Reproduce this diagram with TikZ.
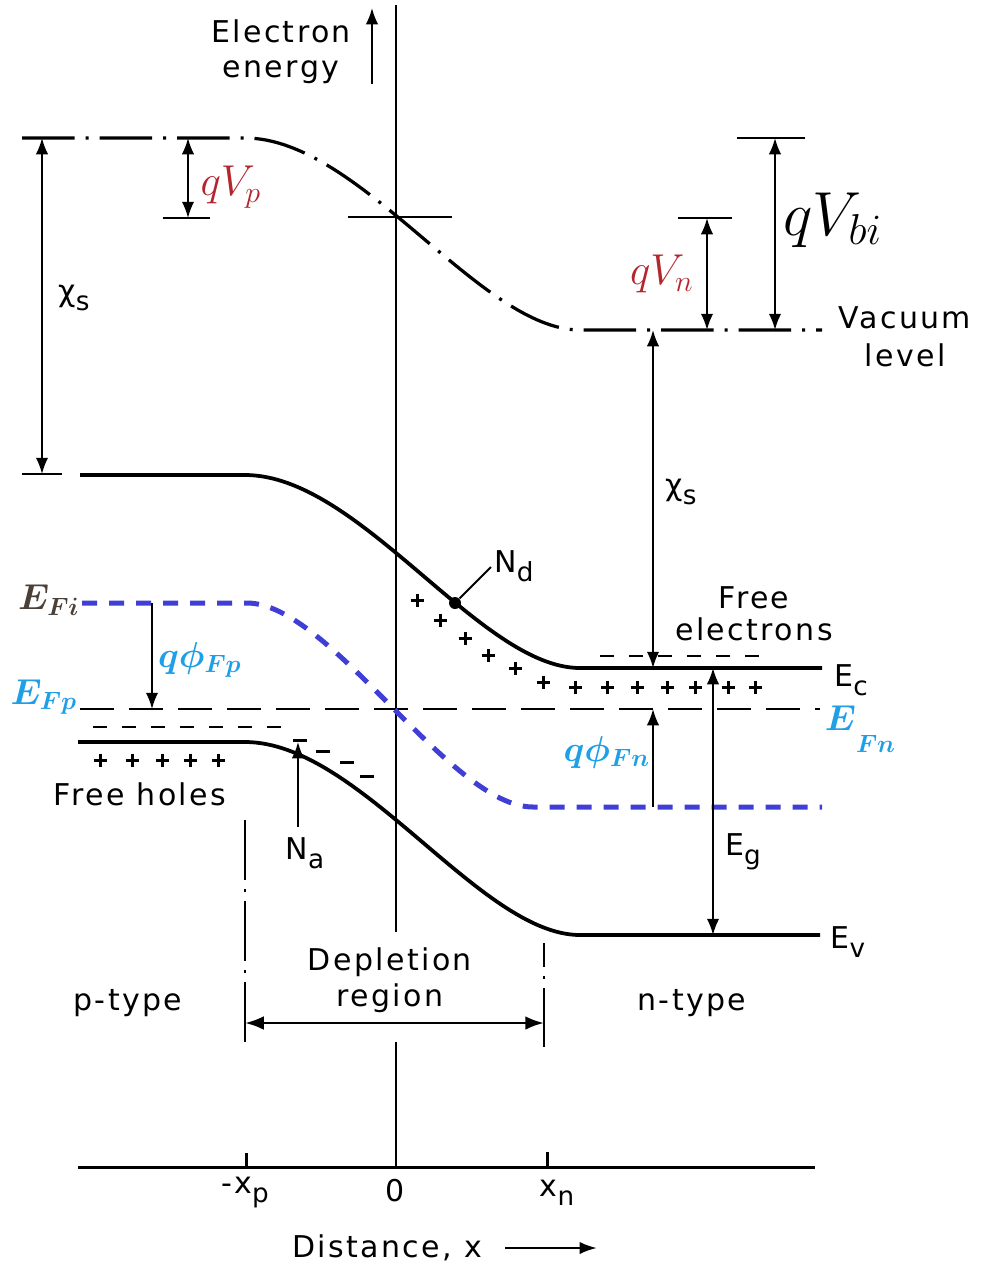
\documentclass[tikz,border=0pt]{standalone}
\usepackage[no-math]{fontspec}
\setmainfont{DejaVu Sans}[LetterSpace=8]
\usepackage{amsmath}
\usetikzlibrary{arrows.meta}
\definecolor{cred}{HTML}{B3262E}
\definecolor{cblue}{HTML}{3F3FD6}
\definecolor{clight}{HTML}{1E9FE6}
\definecolor{cdark}{HTML}{4B4038}
\newcommand{\lowsub}[1]{\raisebox{-0.3em}{\fontsize{10.5}{12}\selectfont #1}}
\tikzset{
  fine/.style={line width=0.8pt},
  axis/.style={line width=0.8pt},
  band/.style={line width=1.5pt},
  vac/.style={line width=1.3pt, dash pattern=on 21pt off 4.4pt on 1.2pt off 4.4pt},
  fermi/.style={line width=1pt, dash pattern=on 13.6pt off 6pt},
  intr/.style={draw=cblue, line width=2pt, dash pattern=on 6pt off 4.8pt},
  carrier/.style={line width=1.1pt, dash pattern=on 5.4pt off 6.2pt},
  sign/.style={line width=1.2pt},
  bound/.style={line width=0.8pt, dash pattern=on 24pt off 3.6pt on 1.2pt off 3.6pt},
  dim/.style={fine, {Latex[length=6.5pt,width=5pt]}-{Latex[length=6.5pt,width=5pt]}},
  dimto/.style={fine, -{Latex[length=6.5pt,width=5pt]}},
  lbl/.style={font=\fontsize{12}{14}\selectfont, inner sep=1pt, align=center},
  qv/.style={text=cred, font=\fontsize{17}{19}\selectfont, inner sep=1pt},
  ef/.style={text=clight, font=\fontsize{14.5}{16}\selectfont, inner sep=1pt},
}
\begin{document}
\begin{tikzpicture}[x=0.4pt, y=-0.4pt]
  \useasboundingbox (0,0) rectangle (981,1266);
  \draw[axis] (396,5) -- (396,932) (396,1042) -- (396,1167);
  \draw[line width=1.2pt] (78,1167) -- (815,1167);
  \draw[line width=1.2pt] (246,1167) -- (246,1153) (547,1167) -- (547,1152);
  \draw[bound] (245,820) -- (245,1045);
  \draw[bound, dash phase=14.4pt] (544,943) -- (544,1047);

  \draw[vac] (22,138) -- (245,138) .. controls (360,138) and (480,330) .. (580,330) -- (822,330);
  \draw[band] (80,475) -- (245,475) .. controls (360,475) and (480,668) .. (580,668) -- (822,668);
  \draw[band] (78,742) -- (245,742) .. controls (360,742) and (480,935) .. (580,935) -- (820,935);
  \draw[fermi] (80,709) -- (820,709);
  \draw[intr] (82,603) -- (247,603) .. controls (330,603) and (450,807) .. (533,807) -- (822,807);
  \draw[carrier] (93,727) -- (283,727);
  \draw[carrier] (600,656) -- (762,656);

  \draw[fine] (22,474) -- (62,474) (163,218) -- (210,218) (348,217) -- (452,217)
    (678,218) -- (732,218) (737,138) -- (805,138);

  \foreach \x/\y in {417/600,440/620,465/638,488/655,515/668,543/682,575/687,607/687,637/687,667/687,695/687,728/687,755/687,100/760,132/760,162/760,190/760,218/760}
    \draw[sign] (\x-6.5,\y) -- (\x+6.5,\y) (\x,\y-6.5) -- (\x,\y+6.5);
  \foreach \x/\y in {300/740,323/751,347/762,367/776}
    \draw[sign] (\x-7,\y) -- (\x+7,\y);

  \coordinate (ee0) at (372,84); \coordinate (ee1) at (372,8);
  \coordinate (xl0) at (42,138); \coordinate (xl1) at (42,474);
  \coordinate (vp0) at (188,138); \coordinate (vp1) at (188,218);
  \coordinate (vn0) at (707,218); \coordinate (vn1) at (707,330);
  \coordinate (vb0) at (775,138); \coordinate (vb1) at (775,330);
  \coordinate (xr0) at (653,330); \coordinate (xr1) at (653,668);
  \coordinate (fp0) at (152,603); \coordinate (fp1) at (152,709);
  \coordinate (fn0) at (653,807); \coordinate (fn1) at (653,709);
  \coordinate (eg0) at (713,668); \coordinate (eg1) at (713,935);
  \coordinate (na0) at (298,827); \coordinate (na1) at (298,742);
  \coordinate (dp0) at (245,1023); \coordinate (dp1) at (544,1023);
  \coordinate (dx0) at (505,1248); \coordinate (dx1) at (597,1248);
  \coordinate (ndtip) at (491,567);

  \draw[dimto] (ee0) -- (ee1);
  \draw[dim] (xl0) -- (xl1);
  \draw[dim] (vp0) -- (vp1);
  \draw[dim] (vn0) -- (vn1);
  \draw[dim] (vb0) -- (vb1);
  \draw[dim] (xr0) -- (xr1);
  \draw[dimto] (fp0) -- (fp1);
  \draw[dimto] (fn0) -- (fn1);
  \draw[dim] (eg0) -- (eg1);
  \draw[dimto] (na0) -- (na1);
  \draw[line width=1.1pt, {Latex[length=7.5pt,width=5.5pt]}-{Latex[length=7.5pt,width=5.5pt]}] (dp0) -- (dp1);
  \draw[line width=1pt, -{Latex[length=7pt,width=5pt]}] (dx0) -- (dx1);

  \node[circle, fill, inner sep=0pt, minimum size=4.8pt] (nd) at (455,603) {};
  \draw[fine] (nd) -- (ndtip);

  \node[lbl] (eelab) at (281,52) {Electron\\energy};
  \node[lbl] (xslab) at (74,298) {χ\lowsub{s}};
  \node[qv] (vplab) at (231,187) {$qV_p$};
  \node[qv] (vnlab) at (662,274) {$qV_n$};
  \node[font=\fontsize{23}{26}\selectfont, inner sep=1pt] (vblab) at (833,220) {$qV_{bi}$};
  \node[lbl, font=\fontsize{12}{15}\selectfont] (vaclab) at (905,337) {Vacuum\\level};
  \node[lbl] (xrlab) at (681,492) {χ\lowsub{s}};
  \node[lbl] (ndlab) at (514,566) {N\lowsub{d}};
  \node[lbl, font=\fontsize{12}{13}\selectfont] (fellab) at (754,614) {Free\\electrons};
  \node[lbl] (eclab) at (851,680) {E\lowsub{c}};
  \node[ef, text=cdark, font=\fontsize{14}{16}\selectfont] (filab) at (49,600) {$\boldsymbol{E_{Fi}}$};
  \node[ef] (fplab) at (44,697) {$\boldsymbol{E_{Fp}}$};
  \node[ef, font=\fontsize{14}{16}\selectfont] (qfplab) at (200,660) {$\boldsymbol{q\phi_{Fp}}$};
  \node[ef] (fnlab) at (860,729) {$\boldsymbol{E}$\raisebox{-0.6em}{$\boldsymbol{\scriptstyle Fn}$}};
  \node[ef, font=\fontsize{14}{16}\selectfont] (qfnlab) at (607,752) {$\boldsymbol{q\phi_{Fn}}$};
  \node[lbl] (holelab) at (140,794) {Free holes};
  \node[lbl] (nalab) at (305,853) {N\lowsub{a}};
  \node[lbl] (eglab) at (743,852) {E\lowsub{g}};
  \node[lbl] (evlab) at (848,942) {E\lowsub{v}};
  \node[lbl, font=\fontsize{12}{14.4}\selectfont] (deplab) at (390,980) {Depletion\\region};
  \node[lbl] (plab) at (128,1003) {p-type};
  \node[lbl] (nlab) at (692,1003) {n-type};
  \node[lbl] (xplab) at (245,1193) {-x\lowsub{p}};
  \node[lbl] (olab) at (395,1191) {0};
  \node[lbl] (xnlab) at (557,1193) {x\lowsub{n}};
  \node[lbl] (dlab) at (387,1248) {Distance, x};
\end{tikzpicture}
\end{document}
